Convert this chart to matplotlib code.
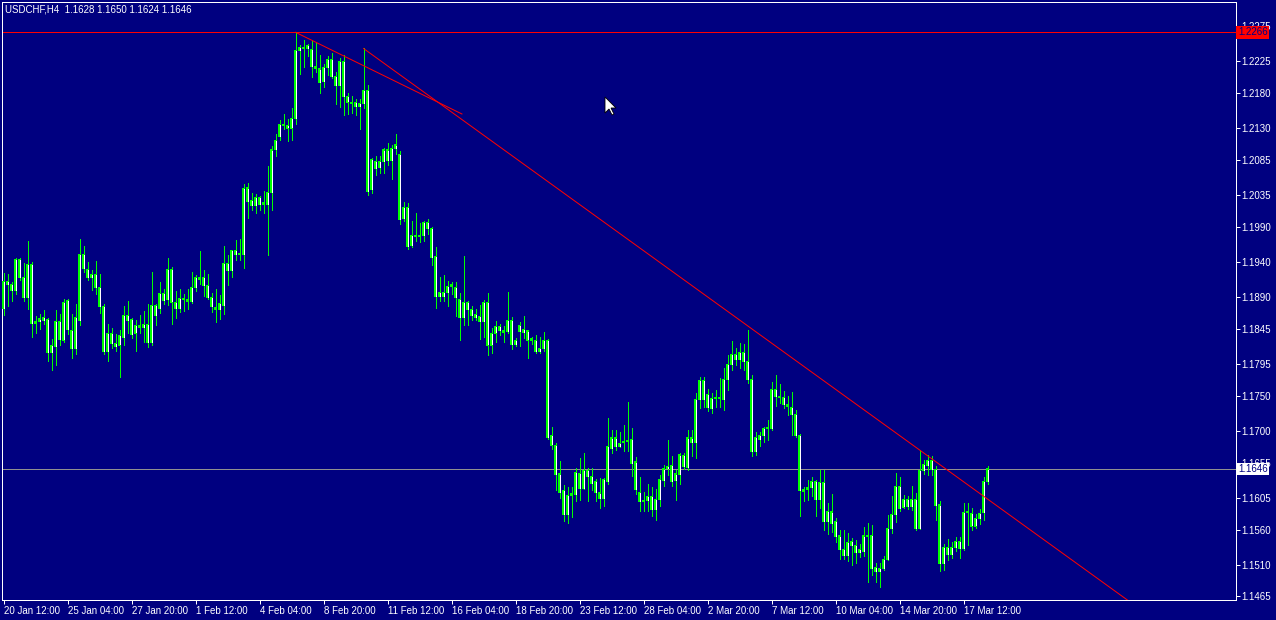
import matplotlib
matplotlib.use("Agg")
import matplotlib.pyplot as plt
import matplotlib.transforms as mtrans
import numpy as np
from matplotlib.patches import Polygon

# USDCHF H4 bars, 20 Jan 12:00 .. 18 Mar 20:00
opens = [
    1.1874, 1.1912, 1.1908, 1.1899, 1.1943, 1.1918, 1.1889, 1.1936, 1.1852, 1.1855,
    1.1857, 1.1858, 1.1811, 1.1820, 1.1856, 1.1829, 1.1885, 1.1843, 1.1817, 1.1857,
    1.1951, 1.1929, 1.1918, 1.1922, 1.1904, 1.1877, 1.1813, 1.1838, 1.1824, 1.1822,
    1.1833, 1.1864, 1.1858, 1.1839, 1.1850, 1.1847, 1.1851, 1.1826, 1.1878, 1.1874,
    1.1895, 1.1886, 1.1929, 1.1882, 1.1874, 1.1888, 1.1886, 1.1884, 1.1904, 1.1918,
    1.1918, 1.1907, 1.1890, 1.1875, 1.1872, 1.1878, 1.1938, 1.1928, 1.1956, 1.1950,
    1.1950, 1.2045, 1.2027, 1.2020, 1.2031, 1.2021, 1.2022, 1.2039, 1.2099, 1.2118,
    1.2135, 1.2134, 1.2130, 1.2143, 1.2240, 1.2245, 1.2243, 1.2241, 1.2217, 1.2214,
    1.2196, 1.2216, 1.2228, 1.2203, 1.2190, 1.2224, 1.2175, 1.2167, 1.2166, 1.2160,
    1.2165, 1.2184, 1.2043, 1.2082, 1.2074, 1.2082, 1.2099, 1.2084, 1.2101, 1.2092,
    1.2002, 1.2017, 1.1963, 1.1978, 1.1976, 1.1978, 1.1996, 1.1987, 1.1948, 1.1891,
    1.1896, 1.1896, 1.1905, 1.1904, 1.1887, 1.1861, 1.1882, 1.1872, 1.1865, 1.1862,
    1.1855, 1.1883, 1.1822, 1.1839, 1.1848, 1.1842, 1.1841, 1.1857, 1.1823, 1.1841,
    1.1844, 1.1842, 1.1831, 1.1829, 1.1813, 1.1817, 1.1828, 1.1694, 1.1679, 1.1639,
    1.1616, 1.1581, 1.1608, 1.1610, 1.1640, 1.1618, 1.1644, 1.1635, 1.1628, 1.1612,
    1.1604, 1.1628, 1.1675, 1.1690, 1.1678, 1.1683, 1.1685, 1.1688, 1.1656, 1.1613,
    1.1600, 1.1601, 1.1607, 1.1588, 1.1603, 1.1629, 1.1646, 1.1651, 1.1629, 1.1638,
    1.1665, 1.1648, 1.1690, 1.1683, 1.1745, 1.1772, 1.1752, 1.1732, 1.1746, 1.1747,
    1.1745, 1.1773, 1.1794, 1.1808, 1.1801, 1.1811, 1.1799, 1.1773, 1.1671, 1.1688,
    1.1694, 1.1704, 1.1703, 1.1759, 1.1749, 1.1747, 1.1738, 1.1734, 1.1724, 1.1694,
    1.1614, 1.1617, 1.1620, 1.1628, 1.1602, 1.1627, 1.1572, 1.1585, 1.1571, 1.1551,
    1.1532, 1.1523, 1.1543, 1.1538, 1.1528, 1.1529, 1.1551, 1.1552, 1.1506, 1.1500,
    1.1505, 1.1518, 1.1562, 1.1581, 1.1621, 1.1592, 1.1603, 1.1593, 1.1603, 1.1562,
    1.1644, 1.1651, 1.1658, 1.1645, 1.1595, 1.1512, 1.1534, 1.1525, 1.1534, 1.1543,
    1.1533, 1.1584, 1.1583, 1.1565, 1.1576, 1.1584, 1.1628,
]
highs = [
    1.1924, 1.1923, 1.1912, 1.1945, 1.1945, 1.1938, 1.1970, 1.1940, 1.1863, 1.1866,
    1.1872, 1.1860, 1.1831, 1.1872, 1.1866, 1.1888, 1.1887, 1.1866, 1.1880, 1.1973,
    1.1962, 1.1940, 1.1929, 1.1941, 1.1923, 1.1880, 1.1852, 1.1846, 1.1838, 1.1843,
    1.1877, 1.1885, 1.1860, 1.1858, 1.1865, 1.1870, 1.1880, 1.1925, 1.1880, 1.1911,
    1.1902, 1.1946, 1.1933, 1.1899, 1.1902, 1.1894, 1.1902, 1.1926, 1.1922, 1.1956,
    1.1929, 1.1923, 1.1896, 1.1902, 1.1893, 1.1963, 1.1950, 1.1957, 1.1971, 1.1973,
    1.2051, 1.2052, 1.2038, 1.2036, 1.2033, 1.2041, 1.2076, 1.2104, 1.2121, 1.2142,
    1.2150, 1.2143, 1.2158, 1.2266, 1.2248, 1.2255, 1.2249, 1.2253, 1.2251, 1.2234,
    1.2221, 1.2232, 1.2236, 1.2210, 1.2229, 1.2234, 1.2180, 1.2175, 1.2171, 1.2171,
    1.2243, 1.2191, 1.2088, 1.2090, 1.2090, 1.2102, 1.2109, 1.2106, 1.2122, 1.2097,
    1.2025, 1.2024, 1.1998, 1.2009, 1.1995, 1.1998, 1.2001, 1.1990, 1.1961, 1.1918,
    1.1921, 1.1913, 1.1911, 1.1912, 1.1896, 1.1949, 1.1885, 1.1878, 1.1873, 1.1879,
    1.1886, 1.1896, 1.1846, 1.1856, 1.1852, 1.1849, 1.1897, 1.1862, 1.1832, 1.1854,
    1.1863, 1.1843, 1.1834, 1.1836, 1.1833, 1.1841, 1.1831, 1.1706, 1.1683, 1.1657,
    1.1623, 1.1621, 1.1621, 1.1647, 1.1661, 1.1668, 1.1647, 1.1648, 1.1632, 1.1633,
    1.1633, 1.1719, 1.1702, 1.1702, 1.1699, 1.1709, 1.1741, 1.1704, 1.1663, 1.1634,
    1.1614, 1.1624, 1.1620, 1.1617, 1.1638, 1.1652, 1.1687, 1.1665, 1.1645, 1.1668,
    1.1668, 1.1702, 1.1702, 1.1754, 1.1776, 1.1777, 1.1760, 1.1754, 1.1758, 1.1775,
    1.1789, 1.1808, 1.1828, 1.1818, 1.1825, 1.1824, 1.1844, 1.1780, 1.1699, 1.1699,
    1.1706, 1.1716, 1.1770, 1.1780, 1.1767, 1.1757, 1.1750, 1.1756, 1.1730, 1.1696,
    1.1621, 1.1631, 1.1635, 1.1631, 1.1645, 1.1645, 1.1598, 1.1611, 1.1576, 1.1559,
    1.1560, 1.1555, 1.1548, 1.1545, 1.1540, 1.1564, 1.1570, 1.1567, 1.1512, 1.1512,
    1.1523, 1.1580, 1.1607, 1.1640, 1.1635, 1.1609, 1.1608, 1.1622, 1.1612, 1.1673,
    1.1659, 1.1666, 1.1665, 1.1650, 1.1600, 1.1540, 1.1546, 1.1543, 1.1550, 1.1550,
    1.1598, 1.1598, 1.1590, 1.1582, 1.1589, 1.1635, 1.1650,
]
lows = [
    1.1865, 1.1877, 1.1884, 1.1895, 1.1914, 1.1884, 1.1873, 1.1834, 1.1839, 1.1845,
    1.1852, 1.1800, 1.1787, 1.1794, 1.1822, 1.1827, 1.1837, 1.1803, 1.1809, 1.1850,
    1.1926, 1.1914, 1.1900, 1.1895, 1.1867, 1.1809, 1.1800, 1.1818, 1.1813, 1.1776,
    1.1822, 1.1839, 1.1832, 1.1813, 1.1839, 1.1827, 1.1819, 1.1822, 1.1850, 1.1867,
    1.1880, 1.1879, 1.1852, 1.1860, 1.1869, 1.1871, 1.1873, 1.1881, 1.1898, 1.1908,
    1.1891, 1.1888, 1.1869, 1.1854, 1.1859, 1.1866, 1.1907, 1.1918, 1.1943, 1.1942,
    1.1931, 1.2003, 1.2013, 1.2009, 1.2013, 1.2009, 1.1950, 1.2013, 1.2090, 1.2113,
    1.2129, 1.2111, 1.2113, 1.2136, 1.2207, 1.2217, 1.2233, 1.2203, 1.2210, 1.2180,
    1.2189, 1.2206, 1.2201, 1.2164, 1.2160, 1.2148, 1.2150, 1.2151, 1.2148, 1.2128,
    1.2158, 1.2035, 1.2038, 1.2064, 1.2066, 1.2066, 1.2078, 1.2057, 1.2093, 1.1994,
    1.1998, 1.1959, 1.1961, 1.1969, 1.1968, 1.1970, 1.1979, 1.1935, 1.1874, 1.1884,
    1.1885, 1.1877, 1.1894, 1.1863, 1.1829, 1.1851, 1.1850, 1.1858, 1.1857, 1.1831,
    1.1834, 1.1808, 1.1811, 1.1827, 1.1836, 1.1827, 1.1839, 1.1817, 1.1820, 1.1820,
    1.1832, 1.1803, 1.1823, 1.1810, 1.1810, 1.1814, 1.1688, 1.1674, 1.1616, 1.1605,
    1.1572, 1.1569, 1.1578, 1.1601, 1.1602, 1.1617, 1.1600, 1.1616, 1.1601, 1.1590,
    1.1593, 1.1625, 1.1669, 1.1673, 1.1677, 1.1671, 1.1671, 1.1636, 1.1611, 1.1586,
    1.1587, 1.1587, 1.1579, 1.1574, 1.1593, 1.1622, 1.1638, 1.1622, 1.1602, 1.1625,
    1.1646, 1.1645, 1.1664, 1.1661, 1.1732, 1.1734, 1.1729, 1.1726, 1.1734, 1.1734,
    1.1730, 1.1758, 1.1787, 1.1794, 1.1789, 1.1787, 1.1768, 1.1664, 1.1666, 1.1679,
    1.1684, 1.1687, 1.1701, 1.1735, 1.1740, 1.1732, 1.1723, 1.1694, 1.1692, 1.1579,
    1.1600, 1.1602, 1.1607, 1.1579, 1.1590, 1.1559, 1.1553, 1.1557, 1.1543, 1.1518,
    1.1518, 1.1516, 1.1510, 1.1513, 1.1521, 1.1522, 1.1485, 1.1496, 1.1486, 1.1479,
    1.1503, 1.1517, 1.1555, 1.1571, 1.1586, 1.1590, 1.1589, 1.1588, 1.1559, 1.1561,
    1.1639, 1.1638, 1.1638, 1.1574, 1.1501, 1.1503, 1.1517, 1.1520, 1.1529, 1.1520,
    1.1531, 1.1538, 1.1560, 1.1562, 1.1568, 1.1573, 1.1624,
]
closes = [
    1.1912, 1.1908, 1.1899, 1.1943, 1.1918, 1.1889, 1.1936, 1.1852, 1.1855, 1.1859,
    1.1861, 1.1811, 1.1822, 1.1856, 1.1830, 1.1883, 1.1844, 1.1817, 1.1861, 1.1951,
    1.1930, 1.1918, 1.1922, 1.1904, 1.1877, 1.1813, 1.1839, 1.1824, 1.1820, 1.1835,
    1.1864, 1.1857, 1.1837, 1.1850, 1.1847, 1.1851, 1.1825, 1.1878, 1.1864, 1.1895,
    1.1885, 1.1929, 1.1883, 1.1874, 1.1888, 1.1886, 1.1884, 1.1904, 1.1918, 1.1915,
    1.1906, 1.1890, 1.1877, 1.1872, 1.1881, 1.1938, 1.1928, 1.1956, 1.1950, 1.1951,
    1.2044, 1.2026, 1.2020, 1.2031, 1.2021, 1.2024, 1.2039, 1.2099, 1.2112, 1.2135,
    1.2134, 1.2130, 1.2144, 1.2240, 1.2245, 1.2243, 1.2247, 1.2217, 1.2214, 1.2195,
    1.2216, 1.2228, 1.2203, 1.2190, 1.2224, 1.2175, 1.2167, 1.2165, 1.2161, 1.2165,
    1.2184, 1.2040, 1.2085, 1.2073, 1.2083, 1.2099, 1.2084, 1.2101, 1.2106, 1.2000,
    1.2017, 1.1962, 1.1978, 1.1976, 1.1978, 1.1996, 1.1987, 1.1946, 1.1891, 1.1896,
    1.1891, 1.1905, 1.1908, 1.1889, 1.1861, 1.1883, 1.1872, 1.1864, 1.1861, 1.1855,
    1.1883, 1.1822, 1.1839, 1.1849, 1.1842, 1.1840, 1.1857, 1.1823, 1.1828, 1.1850,
    1.1840, 1.1829, 1.1828, 1.1813, 1.1817, 1.1828, 1.1691, 1.1680, 1.1638, 1.1613,
    1.1581, 1.1608, 1.1611, 1.1641, 1.1618, 1.1644, 1.1635, 1.1625, 1.1612, 1.1604,
    1.1631, 1.1678, 1.1690, 1.1678, 1.1682, 1.1684, 1.1685, 1.1654, 1.1617, 1.1600,
    1.1601, 1.1607, 1.1588, 1.1603, 1.1631, 1.1646, 1.1650, 1.1628, 1.1639, 1.1666,
    1.1650, 1.1690, 1.1683, 1.1745, 1.1772, 1.1745, 1.1733, 1.1746, 1.1748, 1.1746,
    1.1773, 1.1794, 1.1808, 1.1801, 1.1811, 1.1799, 1.1773, 1.1671, 1.1691, 1.1694,
    1.1704, 1.1705, 1.1759, 1.1749, 1.1748, 1.1737, 1.1735, 1.1723, 1.1694, 1.1615,
    1.1617, 1.1620, 1.1628, 1.1602, 1.1627, 1.1571, 1.1586, 1.1569, 1.1550, 1.1532,
    1.1523, 1.1542, 1.1537, 1.1527, 1.1532, 1.1551, 1.1550, 1.1505, 1.1500, 1.1505,
    1.1517, 1.1562, 1.1581, 1.1621, 1.1590, 1.1603, 1.1593, 1.1603, 1.1562, 1.1644,
    1.1652, 1.1658, 1.1645, 1.1594, 1.1512, 1.1535, 1.1525, 1.1534, 1.1543, 1.1533,
    1.1584, 1.1585, 1.1565, 1.1576, 1.1583, 1.1628, 1.1646,
]

# time axis labels, one every 16 bars
time_labels = [
    "20 Jan 12:00", "25 Jan 04:00", "27 Jan 20:00", "1 Feb 12:00",
    "4 Feb 04:00", "8 Feb 20:00", "11 Feb 12:00", "16 Feb 04:00",
    "18 Feb 20:00", "23 Feb 12:00", "28 Feb 04:00", "2 Mar 20:00",
    "7 Mar 12:00", "10 Mar 04:00", "14 Mar 20:00", "17 Mar 12:00",
]
bars_per_label = 16

price_ticks = [
    1.2275, 1.2225, 1.2180, 1.2130, 1.2085, 1.2035, 1.1990, 1.1940, 1.1890,
    1.1845, 1.1795, 1.1750, 1.1700, 1.1655, 1.1605, 1.1560, 1.1510, 1.1465,
]

high_level = 1.2266
bid_level = 1.1646

# trendlines as (bar index, price)
trend_short = [(73, 1.2266), (114.6, 1.2150)]
trend_ray = [(90, 1.2243), (229, 1.1673)]

BG = "#000080"
CANDLE = "#00ff00"
PX = 0.72  # one pixel in points at dpi 100
YMIN, YMAX = 1.1460, 1.2309
PRICE_PX = (YMAX - YMIN) / 598  # price span of one pixel

fig = plt.figure(figsize=(12.76, 6.2), dpi=100, facecolor=BG)
ax = fig.add_axes([2 / 1276, 20 / 620, 1234 / 1276, 598 / 620])
ax.set_facecolor(BG)

x = np.arange(len(opens))
o = np.array(opens)
c = np.array(closes)
body_lo = np.minimum(o, c)
body_hi = np.maximum(o, c)
body_h = np.maximum(body_hi - body_lo, PRICE_PX)

# wicks, green bodies, then white core inside the tall bodies
ax.vlines(x, lows, highs, color=CANDLE, linewidth=PX, antialiased=False,
          zorder=2)
ax.bar(x, body_h + PRICE_PX, bottom=body_lo - PRICE_PX / 2, width=0.75,
       color=CANDLE, linewidth=0, antialiased=False, zorder=3)
tall = (body_hi - body_lo) > 2.5 * PRICE_PX
ax.vlines(x[tall], body_lo[tall] + PRICE_PX * 0.6,
          body_hi[tall] - PRICE_PX * 0.6, color="white", linewidth=PX,
          antialiased=False, zorder=4)

ax.set_xlim(-0.375, 308.1)
ax.set_ylim(YMIN, YMAX)

# horizontal lines
ax.axhline(high_level, color="#ff0000", linewidth=PX, zorder=1)
ax.axhline(bid_level, color="#909090", linewidth=PX, zorder=1)

# trendlines
(xa0, ya0), (xa1, ya1) = trend_short
ax.plot([xa0, xa1], [ya0, ya1], color="#ff0000", linewidth=PX, zorder=5)
(xb0, yb0), (xb1, yb1) = trend_ray
slope = (yb1 - yb0) / (xb1 - xb0)
xe = 320
ax.plot([xb0, xe], [yb0, yb0 + slope * (xe - xb0)], color="#ff0000",
        linewidth=PX, zorder=5)

for s in ax.spines.values():
    s.set_color("white")
    s.set_linewidth(PX)

ax.yaxis.tick_right()
ax.set_yticks(price_ticks)
ax.set_yticklabels(["%.4f" % v for v in price_ticks])
ax.tick_params(axis="y", colors="white", length=3, width=PX, pad=1,
               labelsize=7)

tick_pos = [i * bars_per_label for i in range(len(time_labels))]
ax.set_xticks(tick_pos)
ax.set_xticklabels(time_labels, ha="left")
ax.tick_params(axis="x", colors="white", length=3, width=PX, pad=1,
               labelsize=7)
for lab in ax.get_xticklabels() + ax.get_yticklabels():
    lab.set_fontfamily("Liberation Sans")

# price boxes on the right scale
trans = mtrans.blended_transform_factory(ax.transAxes, ax.transData)
ax.text(1.0015, high_level, "%.4f" % high_level, transform=trans,
        ha="left", va="center", fontsize=7, color=BG,
        family="Liberation Sans", zorder=6, clip_on=False,
        bbox=dict(boxstyle="square,pad=0.15", fc="#ff0000", ec="none"))
ax.text(1.0015, bid_level, "%.4f" % bid_level, transform=trans,
        ha="left", va="center", fontsize=7, color=BG,
        family="Liberation Sans", zorder=6, clip_on=False,
        bbox=dict(boxstyle="square,pad=0.15", fc="white", ec="none"))

# header
header = "%s  %.4f %.4f %.4f %.4f" % ("USDCHF,H4", opens[-1], highs[-1],
                                       lows[-1], closes[-1])
fig.text(5 / 1276, 1 - 9 / 620, header, color="white", fontsize=7,
         family="Liberation Sans", va="center", ha="left")

# mouse pointer
tip = (605, 97)
shape = [(0, 0), (0, 16), (4, 12), (7, 18), (9, 17), (6, 11), (11, 11)]
pts = [((tip[0] + dx) / 1276, 1 - (tip[1] + dy) / 620) for dx, dy in shape]
fig.add_artist(Polygon(pts, closed=True, transform=fig.transFigure,
                       fc="white", ec="black", lw=0.6, zorder=10))

fig.savefig("out.png", dpi=100, facecolor=BG)
